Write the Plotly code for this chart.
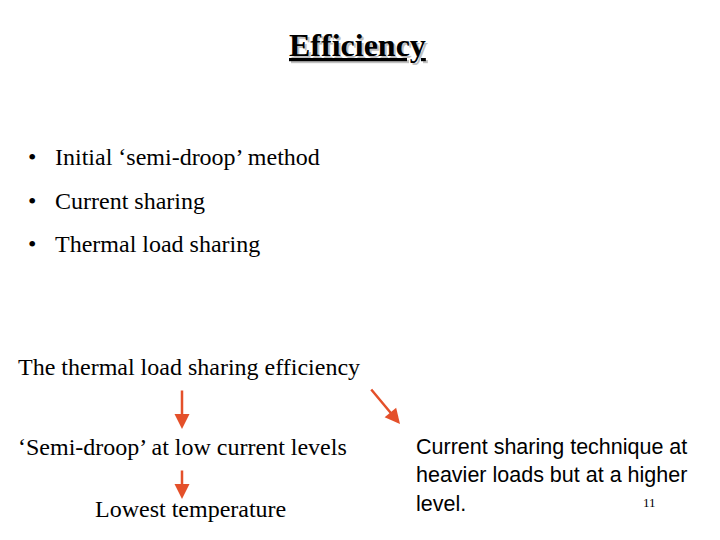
import plotly.graph_objects as go

bullets = ["Initial ‘semi-droop’ method", "Current sharing", "Thermal load sharing"]
bullet_y = [158, 202, 245]
title = "Efficiency"
serif_lines = [("The thermal load sharing efficiency", 20, 368),
               ("‘Semi-droop’ at low current levels", 20, 448),
               ("Lowest temperature", 97, 510)]
right_lines = ["Current sharing technique at", "heavier loads but at a higher", "level."]
right_y = [448, 476, 505]
arrows = [(184, 390, 184, 430), (372, 389, 402, 425), (184, 470, 184, 500)]

fig = go.Figure()
serif = "Liberation Serif"
sans = "Liberation Sans"
ann = []
ann.append(dict(x=361, y=48, text="<b><u>"+title+"</u></b>", font=dict(family=serif, size=32, color="#c0c0c0"), showarrow=False))
ann.append(dict(x=359, y=46, text="<b><u>"+title+"</u></b>", font=dict(family=serif, size=32, color="black"), showarrow=False))
for t, y in zip(bullets, bullet_y):
    ann.append(dict(x=28, y=y, text="•", xanchor="left", font=dict(family=serif, size=24, color="black"), showarrow=False))
    ann.append(dict(x=55, y=y, text=t, xanchor="left", font=dict(family=serif, size=24, color="black"), showarrow=False))
for t, x, y in serif_lines:
    ann.append(dict(x=x-2, y=y, text=t, xanchor="left", font=dict(family=serif, size=24, color="black"), showarrow=False))
for t, y in zip(right_lines, right_y):
    ann.append(dict(x=416, y=y, text=t, xanchor="left", font=dict(family=sans, size=21.5, color="black"), showarrow=False))
ann.append(dict(x=651, y=503, text="11", font=dict(family=serif, size=13, color="black"), showarrow=False))
for x0, y0, x1, y1 in arrows:
    ann.append(dict(x=x1, y=y1, ax=x0, ay=y0, axref="x", ayref="y", xref="x", yref="y",
                    text="", showarrow=True, arrowhead=2, arrowsize=1.2, arrowwidth=2.5, arrowcolor="#e4502a"))
for a in ann:
    a.setdefault("xref", "x"); a.setdefault("yref", "y")
fig.update_layout(width=720, height=540, margin=dict(l=0, r=0, t=0, b=0),
                  plot_bgcolor="white", paper_bgcolor="white", annotations=ann,
                  xaxis=dict(range=[10, 730], visible=False),
                  yaxis=dict(range=[549, 9], visible=False), showlegend=False)
fig.write_html("out.html")
